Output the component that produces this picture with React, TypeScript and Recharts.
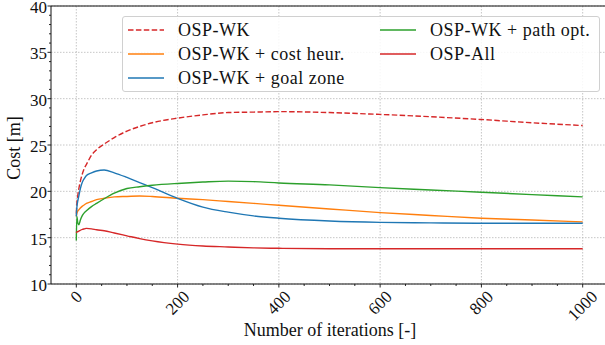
import React from "react";
import { LineChart, Line, XAxis, YAxis, CartesianGrid, ReferenceLine } from "recharts";

// Iteration counts at which the cost was sampled
const iterations = [0, 1, 3, 5, 8, 12, 16, 20, 30, 40, 55, 75, 100, 125, 150, 200, 250, 300, 350, 400, 500, 600, 700, 800, 900, 1000];

const ospWk = [17.6, 18.6, 19.6, 20.3, 21.1, 21.9, 22.5, 22.9, 23.9, 24.5, 25.1, 25.8, 26.5, 27.0, 27.4, 27.9, 28.25, 28.5, 28.55, 28.6, 28.5, 28.3, 28.05, 27.75, 27.4, 27.1];
const ospWkCost = [17.3, 17.6, 17.9, 18.0, 18.2, 18.4, 18.55, 18.7, 18.9, 19.1, 19.25, 19.4, 19.45, 19.5, 19.45, 19.25, 19.1, 18.9, 18.7, 18.5, 18.1, 17.7, 17.4, 17.1, 16.9, 16.7];
const ospWkGoal = [17.3, 18.2, 19.0, 19.5, 20.3, 21.0, 21.4, 21.7, 22.0, 22.2, 22.3, 22.0, 21.5, 20.95, 20.4, 19.25, 18.3, 17.75, 17.35, 17.1, 16.8, 16.65, 16.6, 16.55, 16.55, 16.55];
const ospWkPath = [14.7, 17.3, 16.6, 16.4, 16.9, 17.4, 17.7, 17.9, 18.35, 18.7, 19.2, 19.8, 20.3, 20.5, 20.65, 20.85, 21.0, 21.1, 21.05, 20.9, 20.7, 20.4, 20.15, 19.9, 19.65, 19.4];
const ospAll = [15.5, 15.6, 15.65, 15.7, 15.8, 15.9, 15.95, 16.0, 15.95, 15.85, 15.75, 15.5, 15.2, 14.9, 14.65, 14.3, 14.1, 14.0, 13.9, 13.85, 13.8, 13.8, 13.8, 13.8, 13.8, 13.8];

const xMajorTicks = [0, 200, 400, 600, 800, 1000];
const xMinorTicks = Array.from({ length: 21 }, (_, i) => i * 50);
const yMajorTicks = [10, 15, 20, 25, 30, 35, 40];
const yMinorTicks = Array.from({ length: 31 }, (_, i) => 10 + i);

const xTitle = "Number of iterations [-]";
const yTitle = "Cost [m]";

const seriesList = [
  { key: "wk", name: "OSP-WK", values: ospWk, color: "#d62728", dash: "5.5 2.4" },
  { key: "cost", name: "OSP-WK + cost heur.", values: ospWkCost, color: "#ff7f0e", dash: undefined },
  { key: "goal", name: "OSP-WK + goal zone", values: ospWkGoal, color: "#1f77b4", dash: undefined },
  { key: "path", name: "OSP-WK + path opt.", values: ospWkPath, color: "#2ca02c", dash: undefined },
  { key: "all", name: "OSP-All", values: ospAll, color: "#d62728", dash: undefined },
];

const data = iterations.map((it, i) => {
  const row: Record<string, number> = { it };
  seriesList.forEach((s) => (row[s.key] = s.values[i]));
  return row;
});

const FONT = "Liberation Serif, Times New Roman, serif";
const INK = "#111";
const textStyle = { fontFamily: FONT };

const XTick = (props: any) => {
  const { x, y, payload } = props;
  const v = payload.value as number;
  const major = v % 200 === 0;
  const label = String(v);
  const w = label.length * 8.5;
  const boxH = (w + 11) * 0.707;
  return (
    <g>
      <line x1={x} x2={x} y1={y} y2={y + (major ? 3.5 : 2)} stroke={INK} strokeWidth={0.9} />
      {major && (
        <text
          transform={`translate(${x},${y + 6 + boxH / 2}) rotate(-45)`}
          textAnchor="middle"
          dominantBaseline="central"
          style={textStyle}
          fontSize={17}
          fill={INK}
        >
          {label}
        </text>
      )}
    </g>
  );
};

const YTick = (props: any) => {
  const { x, y, payload } = props;
  const v = payload.value as number;
  const major = v % 5 === 0;
  return (
    <g>
      <line x1={x} x2={x - (major ? 3.5 : 2)} y1={y} y2={y} stroke={INK} strokeWidth={0.9} />
      {major && (
        <text x={x - 4} y={y + 1.5} textAnchor="end" dominantBaseline="central" style={textStyle} fontSize={17} fill={INK}>
          {v}
        </text>
      )}
    </g>
  );
};

const YTitle = (props: any) => {
  const vb = props.viewBox || { x: 0, y: 6, width: 51, height: 278 };
  const cy = vb.y + vb.height / 2 + 3;
  return (
    <text
      transform={`translate(14,${cy}) rotate(-90)`}
      textAnchor="middle"
      dominantBaseline="central"
      style={textStyle}
      fontSize={18}
      fill={INK}
    >
      {yTitle}
    </text>
  );
};

const XTitle = (props: any) => {
  const vb = props.viewBox || { x: 51, y: 284, width: 557, height: 61 };
  return (
    <text x={330} y={vb.y + 46} textAnchor="middle" dominantBaseline="central" style={textStyle} fontSize={18} fill={INK}>
      {xTitle}
    </text>
  );
};

const legendRows = [
  [seriesList[0], seriesList[3]],
  [seriesList[1], seriesList[4]],
  [seriesList[2], null],
];

export default function App() {
  return (
    <div style={{ position: "absolute", left: 0, top: 0, width: 605, height: 345, overflow: "hidden", background: "#fff" }}>
      <LineChart width={610} height={345} data={data} margin={{ top: 6, right: 2, bottom: 0, left: 0 }} style={{ fontFamily: FONT }}>
        <CartesianGrid
          stroke="#b8b8b8"
          strokeWidth={0.8}
          strokeDasharray="1.5 1.5"
          horizontalValues={yMajorTicks}
          verticalValues={xMajorTicks}
        />
        <XAxis
          dataKey="it"
          type="number"
          domain={[-50, 1050]}
          ticks={xMinorTicks}
          interval={0}
          height={61}
          tickSize={0}
          tickMargin={0}
          tickLine={false}
          axisLine={{ stroke: INK, strokeWidth: 1 }}
          tick={<XTick />}
          label={<XTitle />}
        />
        <YAxis
          type="number"
          domain={[10, 40]}
          ticks={yMinorTicks}
          interval={0}
          width={51}
          tickSize={0}
          tickMargin={0}
          tickLine={false}
          axisLine={{ stroke: INK, strokeWidth: 1 }}
          tick={<YTick />}
          label={<YTitle />}
        />
        <ReferenceLine y={40} stroke={INK} strokeWidth={1} />
        <ReferenceLine x={1050} stroke={INK} strokeWidth={1} />
        {seriesList.map((s) => (
          <Line
            key={s.key}
            dataKey={s.key}
            name={s.name}
            type="monotone"
            stroke={s.color}
            strokeWidth={1.4}
            strokeDasharray={s.dash}
            dot={false}
            isAnimationActive={false}
          />
        ))}
      </LineChart>
      <div
        style={{
          position: "absolute",
          left: 122,
          top: 16,
          width: 476,
          height: 74,
          border: "1px solid #d0d0d0",
          borderRadius: 3,
          background: "rgba(255,255,255,0.85)",
          fontFamily: FONT,
          fontSize: 18,
          letterSpacing: 0.5,
          color: INK,
        }}
      >
        {legendRows.map((row, r) =>
          row.map((s, c) =>
            s ? (
              <div
                key={s.key}
                style={{ position: "absolute", left: c === 0 ? 5 : 257, top: 1 + r * 24, height: 24, display: "flex", alignItems: "center", whiteSpace: "nowrap" }}
              >
                <svg width={36} height={4} style={{ marginRight: 14 }}>
                  <line x1={0} x2={36} y1={2} y2={2} stroke={s.color} strokeWidth={1.4} strokeDasharray={s.dash} />
                </svg>
                <span>{s.name}</span>
              </div>
            ) : null
          )
        )}
      </div>
    </div>
  );
}
